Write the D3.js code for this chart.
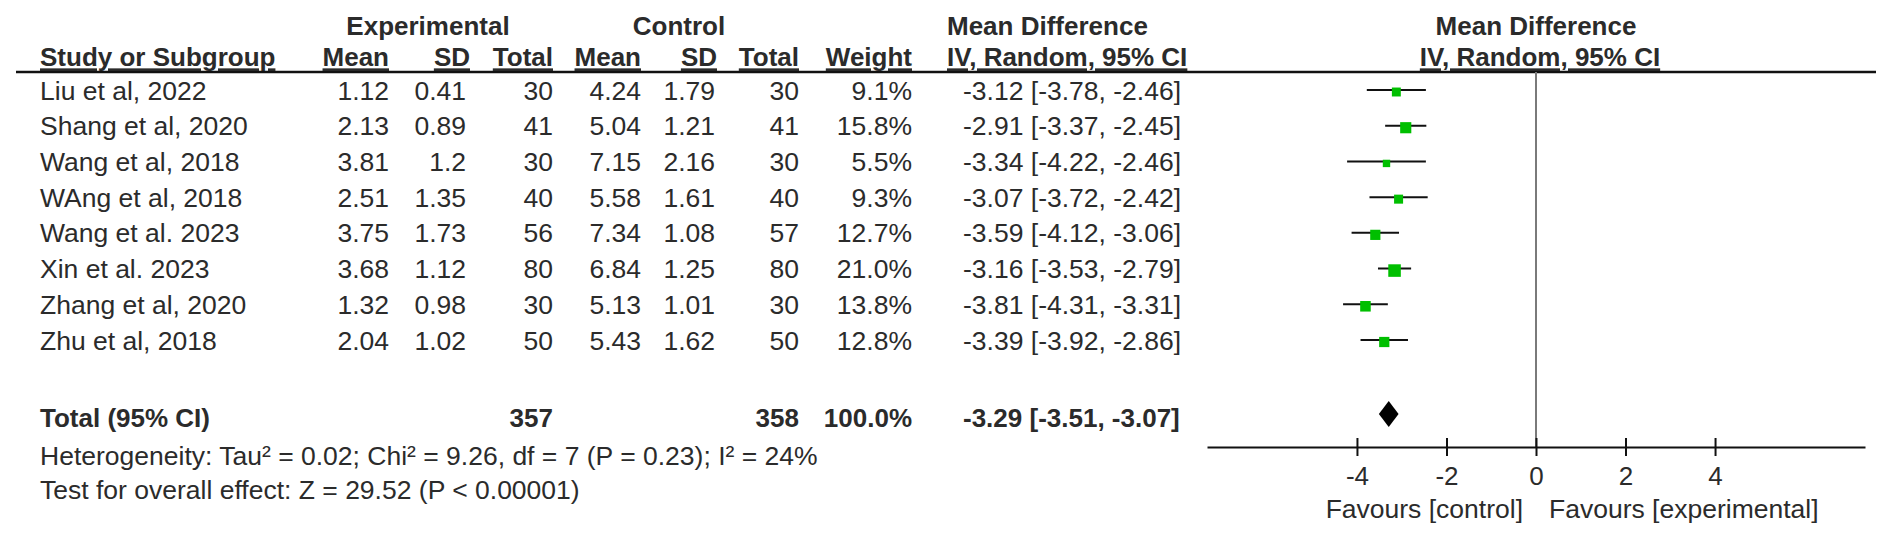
<!DOCTYPE html>
<html>
<head>
<meta charset="utf-8">
<script src="https://cdn.jsdelivr.net/npm/d3@7"></script>
<style>
  html, body { margin: 0; padding: 0; background: #fff; }
  svg { display: block; }
  text { font-family: Arial, "Liberation Sans", sans-serif; fill: #2b2b2b; }
</style>
</head>
<body>
<svg id="chart" width="1901" height="535"></svg>
<script>
// ---- data ----
const studies = ["Liu et al, 2022", "Shang et al, 2020", "Wang et al, 2018", "WAng et al, 2018",
                 "Wang et al. 2023", "Xin et al. 2023", "Zhang et al, 2020", "Zhu et al, 2018"];
const expMean = [1.12, 2.13, 3.81, 2.51, 3.75, 3.68, 1.32, 2.04];
const expSD   = [0.41, 0.89, 1.2, 1.35, 1.73, 1.12, 0.98, 1.02];
const expN    = [30, 41, 30, 40, 56, 80, 30, 50];
const ctlMean = [4.24, 5.04, 7.15, 5.58, 7.34, 6.84, 5.13, 5.43];
const ctlSD   = [1.79, 1.21, 2.16, 1.61, 1.08, 1.25, 1.01, 1.62];
const ctlN    = [30, 41, 30, 40, 57, 80, 30, 50];
const weights = [9.1, 15.8, 5.5, 9.3, 12.7, 21.0, 13.8, 12.8];
const md      = [-3.12, -2.91, -3.34, -3.07, -3.59, -3.16, -3.81, -3.39];
const ciLow   = [-3.78, -3.37, -4.22, -3.72, -4.12, -3.53, -4.31, -3.92];
const ciHigh  = [-2.46, -2.45, -2.46, -2.42, -3.06, -2.79, -3.31, -2.86];
const totalExpN = 357, totalCtlN = 358, totalWeight = 100.0;
const totalMD = -3.29, totalLow = -3.51, totalHigh = -3.07;
const heterogeneityText = "Heterogeneity: Tau² = 0.02; Chi² = 9.26, df = 7 (P = 0.23); I² = 24%";
const overallText = "Test for overall effect: Z = 29.52 (P < 0.00001)";
const axisTicks = [-4, -2, 0, 2, 4];
const favoursLeft = "Favours [control]";
const favoursRight = "Favours [experimental]";

// ---- layout ----
const svg = d3.select("#chart");
const FS = 26.5, FSB = 26;
const x = d3.scaleLinear().domain([-7.35, 7.35]).range([1207, 1865]);
const y = d3.scaleLinear().domain([0, studies.length - 1]).range([90, 340]);
const headerLineY = 72, axisY = 447, totalY = 418;

const cols = {
  study: 40, expMean: 389, expSD: 466, expN: 553, ctlMean: 641, ctlSD: 715, ctlN: 799, weight: 912, ci: 963
};

function txt(xp, yp, s, anchor, bold, extra) {
  const t = svg.append("text")
    .attr("x", xp).attr("y", yp).attr("dy", "0.36em")
    .attr("font-size", bold ? FSB : FS)
    .attr("text-anchor", anchor || "start")
    .attr("font-weight", bold ? "bold" : "normal")
    .text(s);
  if (extra) extra(t);
  return t;
}

// header row 1
txt(428, 26, "Experimental", "middle", true);
txt(679, 26, "Control", "middle", true);
txt(947, 26, "Mean Difference", "start", true);
txt(x(0), 26, "Mean Difference", "middle", true);

// header row 2 (underlined)
const ul = t => t.style("text-decoration", "underline");
txt(cols.study, 57, "Study or Subgroup", "start", true, ul);
txt(cols.expMean, 57, "Mean", "end", true, ul);
txt(470, 57, "SD", "end", true, ul);
txt(cols.expN, 57, "Total", "end", true, ul);
txt(cols.ctlMean, 57, "Mean", "end", true, ul);
txt(717, 57, "SD", "end", true, ul);
txt(cols.ctlN, 57, "Total", "end", true, ul);
txt(cols.weight, 57, "Weight", "end", true, ul);
txt(947, 57, "IV, Random, 95% CI", "start", true, ul);
txt(x(0) + 4, 57, "IV, Random, 95% CI", "middle", true, ul);

// header rule
svg.append("line").attr("x1", 16).attr("x2", 1876)
  .attr("y1", headerLineY).attr("y2", headerLineY)
  .attr("stroke", "#111").attr("stroke-width", 2.5);

// zero line
svg.append("line").attr("x1", x(0)).attr("x2", x(0))
  .attr("y1", headerLineY).attr("y2", axisY)
  .attr("stroke", "#7a7a7a").attr("stroke-width", 2);

// study rows
studies.forEach((s, i) => {
  const yy = y(i);
  txt(cols.study, yy, s, "start", false);
  txt(cols.expMean, yy, String(expMean[i]), "end", false);
  txt(cols.expSD, yy, String(expSD[i]), "end", false);
  txt(cols.expN, yy, String(expN[i]), "end", false);
  txt(cols.ctlMean, yy, String(ctlMean[i]), "end", false);
  txt(cols.ctlSD, yy, String(ctlSD[i]), "end", false);
  txt(cols.ctlN, yy, String(ctlN[i]), "end", false);
  txt(cols.weight, yy, weights[i].toFixed(1) + "%", "end", false);
  txt(cols.ci, yy, `${md[i].toFixed(2)} [${ciLow[i].toFixed(2)}, ${ciHigh[i].toFixed(2)}]`, "start", false);
});

// CI lines
svg.append("g").selectAll("line").data(studies).join("line")
  .attr("x1", (d, i) => x(ciLow[i])).attr("x2", (d, i) => x(ciHigh[i]))
  .attr("y1", (d, i) => y(i)).attr("y2", (d, i) => y(i))
  .attr("stroke", "#111").attr("stroke-width", 2);

// squares
const side = w => 2 + 2.3 * Math.sqrt(w);
svg.append("g").selectAll("rect").data(studies).join("rect")
  .attr("x", (d, i) => x(md[i]) - side(weights[i]) / 2)
  .attr("y", (d, i) => y(i) + 2 - side(weights[i]) / 2)
  .attr("width", (d, i) => side(weights[i]))
  .attr("height", (d, i) => side(weights[i]))
  .attr("fill", "#00bf00");

// total row
txt(cols.study, totalY, "Total (95% CI)", "start", true);
txt(cols.expN, totalY, String(totalExpN), "end", true);
txt(cols.ctlN, totalY, String(totalCtlN), "end", true);
txt(cols.weight, totalY, totalWeight.toFixed(1) + "%", "end", true);
txt(cols.ci, totalY, `${totalMD.toFixed(2)} [${totalLow.toFixed(2)}, ${totalHigh.toFixed(2)}]`, "start", true);

// diamond
const dh = 13, dy0 = totalY - 4;
svg.append("path")
  .attr("d", `M${x(totalLow)},${dy0} L${x(totalMD)},${dy0 - dh} L${x(totalHigh)},${dy0} L${x(totalMD)},${dy0 + dh} Z`)
  .attr("fill", "#000");

// heterogeneity & overall
txt(cols.study, 455, heterogeneityText, "start", false);
txt(cols.study, 489, overallText, "start", false);

// axis
const axis = d3.axisBottom(x).tickValues(axisTicks).tickSize(8).tickSizeOuter(0).tickPadding(12);
const ag = svg.append("g").attr("transform", `translate(0,${axisY})`).call(axis);
ag.select(".domain").attr("stroke", "#111").attr("stroke-width", 2);
ag.selectAll(".tick line").attr("y1", -9).attr("y2", 9).attr("stroke", "#111").attr("stroke-width", 2);
ag.selectAll(".tick text").attr("font-size", 26).attr("fill", "#2b2b2b")
  .attr("font-family", "Arial, 'Liberation Sans', sans-serif").text(d => d < 0 ? "-" + Math.abs(d) : d);

// favours labels
txt(x(0) - 13, 508, favoursLeft, "end", false);
txt(x(0) + 13, 508, favoursRight, "start", false);
</script>
</body>
</html>
